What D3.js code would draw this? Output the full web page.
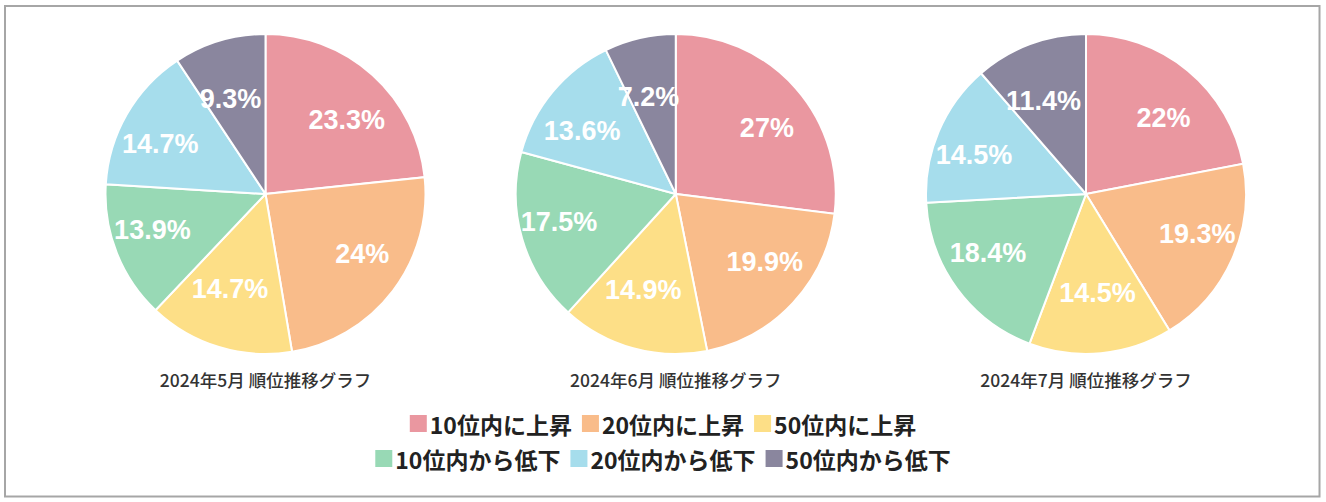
<!DOCTYPE html>
<html>
<head>
<meta charset="utf-8">
<script src="https://cdn.jsdelivr.net/npm/d3@7"></script>
<style>
  html, body { margin: 0; padding: 0; background: #fff; }
  svg { display: block; }
</style>
</head>
<body>
<svg id="chart" width="1326" height="502"></svg>
<script>
// ---- data ----
const categories = ["10位内に上昇", "20位内に上昇", "50位内に上昇", "10位内から低下", "20位内から低下", "50位内から低下"];
const colors = ["#EA97A0", "#F9BC8A", "#FDDF87", "#98D9B5", "#A6DDEC", "#8A869E"];
const months = ["2024年5月", "2024年6月", "2024年7月"];
const mayValues = [23.3, 24, 14.7, 13.9, 14.7, 9.3];
const junValues = [27, 19.9, 14.9, 17.5, 13.6, 7.2];
const julValues = [22, 19.3, 14.5, 18.4, 14.5, 11.4];
const seriesValues = [mayValues, junValues, julValues];
const titleSuffix = " 順位推移グラフ";

// ---- layout ----
const W = 1326, H = 502;
const svg = d3.select("#chart");

svg.append("rect")
  .attr("x", 5).attr("y", 6).attr("width", 1314.5).attr("height", 490.5)
  .attr("fill", "#fff").attr("stroke", "#a6a6a6").attr("stroke-width", 2);

const xScale = d3.scalePoint().domain(months).range([265.5, 1086]);
const radius = 160;
const cy = 194;
const color = d3.scaleOrdinal().domain(categories).range(colors);

const pie = d3.pie().sort(null).value(d => d.value);
const arc = d3.arc().innerRadius(0).outerRadius(radius);

months.forEach((m, i) => {
  const data = categories.map((c, j) => ({ cat: c, value: seriesValues[i][j] }));
  const g = svg.append("g").attr("transform", `translate(${xScale(m)},${cy})`);
  const arcs = pie(data);
  g.selectAll("path.slice").data(arcs).enter().append("path")
    .attr("class", "slice")
    .attr("d", arc)
    .attr("fill", d => color(d.data.cat))
    .attr("stroke", "#fff")
    .attr("stroke-width", 2);
  g.selectAll("text.lbl").data(arcs).enter().append("text")
    .attr("class", "lbl")
    .attr("x", d => Math.sin((d.startAngle + d.endAngle) / 2) * radius * 0.76)
    .attr("y", d => -Math.cos((d.startAngle + d.endAngle) / 2) * radius * 0.62)
    .attr("text-anchor", "middle")
    .attr("dominant-baseline", "central")
    .attr("font-family", "'Liberation Sans', Arial, sans-serif")
    .attr("font-weight", "bold")
    .attr("font-size", 27)
    .attr("fill", "#fff")
    .text(d => d.data.value + "%");
  svg.append("text")
    .attr("x", xScale(m))
    .attr("y", cy + radius + 25)
    .attr("text-anchor", "middle")
    .attr("dominant-baseline", "central")
    .attr("font-family", "'Noto Sans CJK JP', sans-serif")
    .attr("font-weight", 500)
    .attr("font-size", 17.5)
    .attr("fill", "#333")
    .text(m + titleSuffix);
});

// ---- legend ----
const rows = [categories.slice(0, 3), categories.slice(3)];
const rowY = [423.5, 458.5];
const sq = 17, gapText = 3, gapItem = 10;
rows.forEach((row, ri) => {
  const lg = svg.append("g");
  let x = 0;
  row.forEach(cat => {
    const item = lg.append("g").attr("transform", `translate(${x},0)`);
    item.append("rect")
      .attr("x", 0).attr("y", -sq / 2).attr("width", sq).attr("height", sq)
      .attr("fill", color(cat));
    const t = item.append("text")
      .attr("x", sq + gapText).attr("y", 0)
      .attr("dominant-baseline", "central")
      .attr("font-family", "'Noto Sans CJK JP', sans-serif")
      .attr("font-weight", "bold")
      .attr("font-size", 23)
      .attr("fill", "#222")
      .text(cat);
    x += sq + gapText + t.node().getComputedTextLength() + gapItem;
  });
  const total = x - gapItem;
  lg.attr("transform", `translate(${W / 2 - total / 2},${rowY[ri]})`);
});
</script>
</body>
</html>
